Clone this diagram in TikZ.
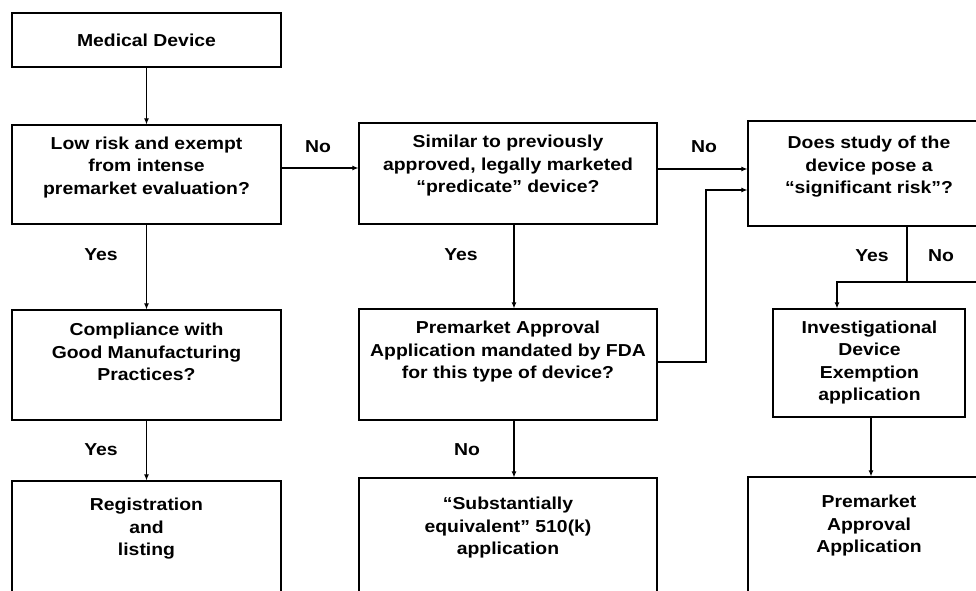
\documentclass[tikz,border=0pt]{standalone}
\usepackage{fontspec}
\newfontfamily\dfont{Liberation Sans}[FakeStretch=1.12]
\usetikzlibrary{arrows.meta}
\begin{document}
\begin{tikzpicture}[x=1pt,y=-1pt,
  box/.style={draw, line width=1.2pt, inner sep=0pt},
  txt/.style={align=center, inner sep=0pt, font=\dfont\bfseries\fontsize{17.3}{22.5}\selectfont},
  lbl/.style={inner sep=0pt, font=\dfont\bfseries\fontsize{17.3}{22.5}\selectfont},
  line/.style={line width=1.1pt},
  arr/.style={line width=1.1pt, -{Latex[length=6pt,width=5pt]}}]
\useasboundingbox (0,0) rectangle (976,590);
\clip (0,0) rectangle (976,590);
\fill[white] (0,0) rectangle (976,590);
% boxes
\node[box, minimum width=269pt, minimum height=54pt]  (med)  at (146.5,40) {};
\node[box, minimum width=269pt, minimum height=99pt]  (low)  at (146.5,174.5) {};
\node[box, minimum width=298pt, minimum height=101pt] (sim)  at (508,173.5) {};
\node[box, minimum width=244pt, minimum height=105pt] (sig)  at (870,173.5) {};
\node[box, minimum width=269pt, minimum height=110pt] (comp) at (146.5,365) {};
\node[box, minimum width=298pt, minimum height=111pt] (pma)  at (508,364.5) {};
\node[box, minimum width=192pt, minimum height=108pt] (ide)  at (869,363) {};
\node[box, minimum width=269pt, minimum height=119pt] (reg)  at (146.5,540.5) {};
\node[box, minimum width=298pt, minimum height=122pt] (sub)  at (508,539) {};
\node[box, minimum width=244pt, minimum height=123pt] (pa)   at (870,538.5) {};
% texts
\node[txt] (medT)  at (146.5,40) {Medical Device};
\node[txt] (lowT)  at (146.5,167.5) {Low risk and exempt\\from intense\\premarket evaluation?};
\node[txt] (simT)  at (508,166) {Similar to previously\\approved, legally marketed\\“predicate” device?};
\node[txt] (sigT)  at (869,167) {Does study of the\\device pose a\\“significant risk”?};
\node[txt] (compT) at (146.5,352) {Compliance with\\Good Manufacturing\\Practices?};
\node[txt] (pmaT)  at (508,352) {Premarket Approval\\Application mandated by FDA\\for this type of device?};
\node[txt] (ideT)  at (869.5,362.5) {Investigational\\Device\\Exemption\\application};
\node[txt] (regT)  at (146.5,529) {Registration\\and\\listing};
\node[txt] (subT)  at (508,528) {“Substantially\\equivalent” 510(k)\\application};
\node[txt] (paT)   at (869,526) {Premarket\\Approval\\Application};
% labels
\node[lbl] (n1) at (318,147) {No};
\node[lbl] (n2) at (704,147) {No};
\node[lbl] (y1) at (101,255) {Yes};
\node[lbl] (y2) at (461,255) {Yes};
\node[lbl] (y3) at (872,256) {Yes};
\node[lbl] (n3) at (941,256) {No};
\node[lbl] (y4) at (101,450) {Yes};
\node[lbl] (n4) at (467,450) {No};
% connectors
\draw[arr] (med.south) -- (low.north);
\draw[arr] (low.south) -- (comp.north);
\draw[arr] (comp.south) -- (reg.north);
\draw[arr] (low.east |- 0,168) -- (sim.west |- 0,168);
\draw[arr] (sim.east |- 0,169) -- (sig.west |- 0,169);
\draw[arr] ([xshift=6pt]sim.south) -- ([xshift=6pt]pma.north);
\draw[arr] ([xshift=6pt]pma.south) -- ([xshift=6pt]sub.north);
\coordinate (bend) at (706,362);
\draw[arr] (pma.east |- bend) -- (bend) |- (sig.west |- 0,190);
\coordinate (split) at (907,282);
\draw[line] (sig.south -| split) -- (split);
\draw[line] (split) -- (995,282);
\draw[arr] (split) -- (837,282) -- (ide.north -| 837,0);
\draw[arr] ([xshift=2pt]ide.south) -- ([xshift=2pt]ide.south |- pa.north);
\end{tikzpicture}
\end{document}
